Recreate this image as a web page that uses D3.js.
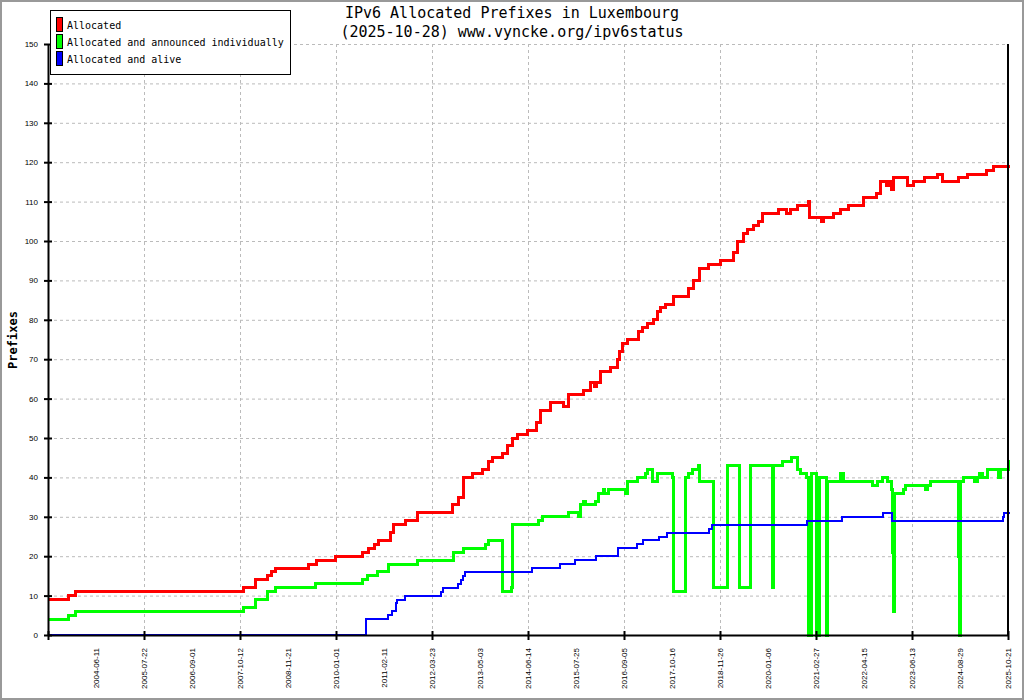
<!DOCTYPE html>
<html lang="en">
<head>
<meta charset="UTF-8">
<title>IPv6 Allocated Prefixes in Luxembourg</title>
<script src="https://d3js.org/d3.v7.min.js"></script>
<style>
  body { margin: 0; background: #fff; }
  svg { display: block; font-family: "DejaVu Sans Mono", "Liberation Mono", monospace; }
  .grid line { stroke: #bbbbbb; stroke-width: 1; stroke-dasharray: 3,3; }
  .grid path { stroke: none; }
  .axis path, .axis line { stroke: #000; stroke-width: 2; }
  .axis text { font-size: 8px; fill: #000; }
  .title { font-size: 15px; fill: #000; }
  .legend text { font-size: 10px; fill: #000; }
</style>
</head>
<body>
<div id="chart"></div>
<script>
// x is the sample index along the graph (one label every 48 samples)
const xTickLabels = [
  "2004-06-11", "2005-07-22", "2006-09-01", "2007-10-12", "2008-11-21",
  "2010-01-01", "2011-02-11", "2012-03-23", "2013-05-03", "2014-06-14",
  "2015-07-25", "2016-09-05", "2017-10-16", "2018-11-26", "2020-01-06",
  "2021-02-27", "2022-04-15", "2023-06-13", "2024-08-29", "2025-10-21"
];
const labelStep = 48;
const yTicks = [0, 10, 20, 30, 40, 50, 60, 70, 80, 90, 100, 110, 120, 130, 140, 150];

const seriesNames = ["Allocated", "Allocated and announced individually", "Allocated and alive"];
const seriesColors = ["#ff0000", "#00ff00", "#0000ff"];

// [sample, prefixes] - value holds until next sample
const allocated = [
  [0,9],[20,10],[27,11],[195,12],[207,14],[219,15],[223,16],[227,17],[260,18],[268,19],
  [287,20],[314,21],[320,22],[326,23],[330,24],[342,26],[345,28],[357,29],[369,31],[404,33],
  [410,35],[415,40],[424,41],[434,42],[440,44],[444,45],[454,46],[459,48],[464,50],[469,51],
  [479,52],[488,54],[492,57],[502,59],[515,58],[520,61],[535,62],[542,64],[546,63],[548,64],
  [552,67],[562,68],[569,70],[571,72],[574,74],[579,75],[590,77],[594,78],[599,79],[605,80],
  [609,82],[612,83],[617,84],[625,86],[640,88],[645,90],[651,93],[660,94],[672,95],[685,97],
  [689,100],[695,102],[699,103],[705,104],[710,105],[714,107],[730,108],[738,107],[742,108],[749,109],
  [760,110],[761,106],[773,105],[775,106],[785,107],[792,108],[800,109],[815,111],[828,112],[832,115],
  [838,114],[840,115],[843,113],[845,116],[859,114],[865,115],[876,116],[889,117],[894,115],[910,116],
  [919,117],[938,118],[945,119],[962,119]
];

const announced = [
  [0,4],[20,5],[27,6],[195,7],[207,9],[219,11],[227,12],[267,13],[314,14],[319,15],
  [329,16],[340,18],[369,19],[405,21],[415,22],[437,23],[440,24],[454,11],[463,12],[464,28],
  [490,29],[494,30],[520,31],[530,30],[532,33],[535,34],[537,33],[547,34],[550,36],[555,37],
  [556,36],[560,37],[577,36],[579,39],[589,40],[597,41],[599,42],[604,39],[609,41],[624,40],
  [625,11],[637,40],[640,41],[644,42],[650,43],[651,39],[665,12],[679,43],[691,12],[702,43],
  [724,12],[725,43],[734,44],[743,45],[749,42],[752,41],[758,40],[760,0],[763,41],[768.5,0],
  [771.5,40],[778.5,0],[779.5,39],[792,41],[795,39],[824,38],[829,39],[834,40],[839,39],[843,37],
  [844,21],[845,6],[846,36],[855,37],[857,38],[877,37],[879,38],[882,39],[910,20],[911,0],
  [912,39],[915,40],[926,39],[929,40],[931,41],[934,40],[939,42],[950,40],[952,42],[960,44],
  [962,44]
];

const alive = [
  [0,0],[318,4],[340,5],[344,6],[348,8],[349,9],[357,10],[393,11],[395,12],[410,13],
  [413,14],[415,15],[417,16],[484,17],[512,18],[527,19],[548,20],[570,22],[589,23],[595,24],
  [611,25],[619,26],[661,27],[664,28],[759,29],[794,30],[835,31],[844,29],[955,30],[956,31],
  [962,31]
];

const W = 1024, H = 700;
const plot = { left: 48, right: 1008, top: 44, bottom: 635 };

const svg = d3.select("#chart").append("svg")
  .attr("width", W)
  .attr("height", H);

svg.append("rect")
  .attr("x", 1).attr("y", 1)
  .attr("width", W - 2).attr("height", H - 2)
  .attr("fill", "#fff")
  .attr("stroke", "#999")
  .attr("stroke-width", 2);

const x = d3.scaleLinear()
  .domain([0, labelStep * xTickLabels.length])
  .range([plot.left, plot.right]);

const y = d3.scaleLinear()
  .domain([0, 150])
  .range([plot.bottom, plot.top]);

const labelPos = xTickLabels.map((d, i) => (i + 1) * labelStep);
const majorPos = [0].concat(labelPos.filter((d, i) => i % 2 === 1));

// grid
svg.append("g")
  .attr("class", "grid")
  .attr("transform", `translate(${plot.left},0)`)
  .call(d3.axisLeft(y).tickValues(yTicks.slice(1)).tickSize(-(plot.right - plot.left)).tickFormat(""));

svg.append("g")
  .attr("class", "grid")
  .attr("transform", `translate(0,${plot.bottom})`)
  .call(d3.axisBottom(x).tickValues(majorPos.slice(1, -1)).tickSize(-(plot.bottom - plot.top)).tickFormat(""));

// series
const line = d3.line()
  .x(d => x(d[0]))
  .y(d => y(d[1]))
  .curve(d3.curveStepAfter);

[[announced, 1, 3], [allocated, 0, 3], [alive, 2, 2]].forEach(([data, ci, w]) => {
  svg.append("path")
    .datum(data)
    .attr("fill", "none")
    .attr("stroke", seriesColors[ci])
    .attr("stroke-width", w)
    .attr("stroke-linejoin", "miter")
    .attr("shape-rendering", "crispEdges")
    .attr("d", line);
});

// axes
const yAxis = svg.append("g")
  .attr("class", "axis")
  .attr("transform", `translate(${plot.left},0)`)
  .call(d3.axisLeft(y).tickValues(yTicks).tickSize(4).tickSizeOuter(0).tickPadding(6));
yAxis.selectAll(".tick line").attr("x1", 4).attr("x2", -4);

const xAxis = svg.append("g")
  .attr("class", "axis")
  .attr("transform", `translate(0,${plot.bottom})`)
  .call(d3.axisBottom(x).tickValues(majorPos).tickSize(5).tickSizeOuter(0).tickFormat(""));
xAxis.selectAll(".tick line").attr("y1", -4).attr("y2", 5);

svg.append("g")
  .attr("class", "axis")
  .attr("transform", `translate(0,${plot.bottom})`)
  .call(d3.axisBottom(x).tickValues(labelPos).tickSize(0).tickFormat((d, i) => xTickLabels[i]))
  .call(g => g.select(".domain").remove())
  .selectAll("text")
  .attr("transform", "rotate(-90)")
  .attr("x", -13)
  .attr("y", 0)
  .attr("dy", "0.35em")
  .style("text-anchor", "end");

svg.append("line")
  .attr("x1", plot.right).attr("x2", plot.right)
  .attr("y1", plot.top).attr("y2", plot.bottom)
  .attr("stroke", "#000")
  .attr("stroke-width", 2);

// titles
svg.append("text")
  .attr("class", "title")
  .attr("x", W / 2).attr("y", 18)
  .attr("text-anchor", "middle")
  .text("IPv6 Allocated Prefixes in Luxembourg");

svg.append("text")
  .attr("class", "title")
  .attr("x", W / 2).attr("y", 37)
  .attr("text-anchor", "middle")
  .text("(2025-10-28) www.vyncke.org/ipv6status");

svg.append("text")
  .attr("transform", `translate(17,340) rotate(-90)`)
  .attr("text-anchor", "middle")
  .style("font-size", "12px")
  .style("font-weight", "bold")
  .text("Prefixes");

// legend
const legend = svg.append("g").attr("class", "legend");
legend.append("rect")
  .attr("x", 50.5).attr("y", 10.5)
  .attr("width", 240).attr("height", 64)
  .attr("fill", "#fff")
  .attr("stroke", "#000");

seriesNames.forEach((name, i) => {
  legend.append("rect")
    .attr("x", 56.5).attr("y", 17.5 + i * 17)
    .attr("width", 6).attr("height", 14)
    .attr("fill", seriesColors[i])
    .attr("stroke", "#000");
  legend.append("text")
    .attr("x", 67).attr("y", 29 + i * 17)
    .text(name);
});
</script>
</body>
</html>
